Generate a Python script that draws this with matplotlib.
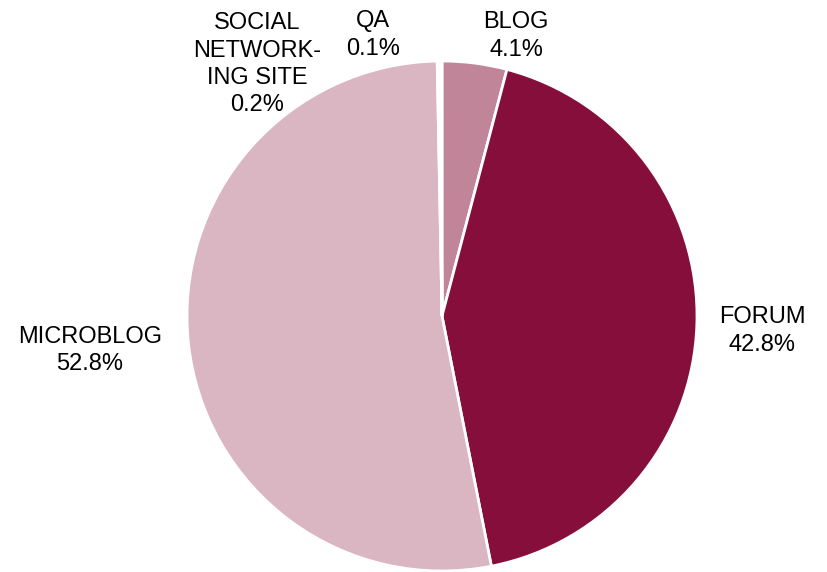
import matplotlib
matplotlib.use("Agg")
import matplotlib.pyplot as plt

categories = ["BLOG", "FORUM", "MICROBLOG", "SOCIAL\nNETWORK-\nING SITE", "QA"]
shares = [4.1, 42.8, 52.8, 0.2, 0.1]
colors = ["#c08599", "#850e3b", "#dab5c2", "#fbf5f7", "#fbf5f7"]

# label anchor positions (data units, pie radius = 1)
label_pos = [(0.29, 1.098), (1.255, -0.059), (-1.38, -0.137), (-0.725, 0.988), (-0.271, 1.102)]

plt.rcParams["font.family"] = ["Liberation Sans", "DejaVu Sans"]

fig = plt.figure(figsize=(8.27, 5.72), dpi=100)
ax = fig.add_axes([187 / 827, 1 / 572, 510 / 827, 510 / 572])
wedges, _ = ax.pie(shares, colors=colors, startangle=90, counterclock=False,
                   wedgeprops=dict(edgecolor="white", linewidth=2))
ax.set_xlim(-1, 1)
ax.set_ylim(-1, 1)
ax.set_aspect("auto")
ax.axis("off")

for name, val, (x, y) in zip(categories, shares, label_pos):
    ax.text(x, y, f"{name}\n{val:.1f}%", ha="center", va="center",
            fontsize=17, linespacing=1.3, clip_on=False)

fig.savefig("out.png", dpi=100)
